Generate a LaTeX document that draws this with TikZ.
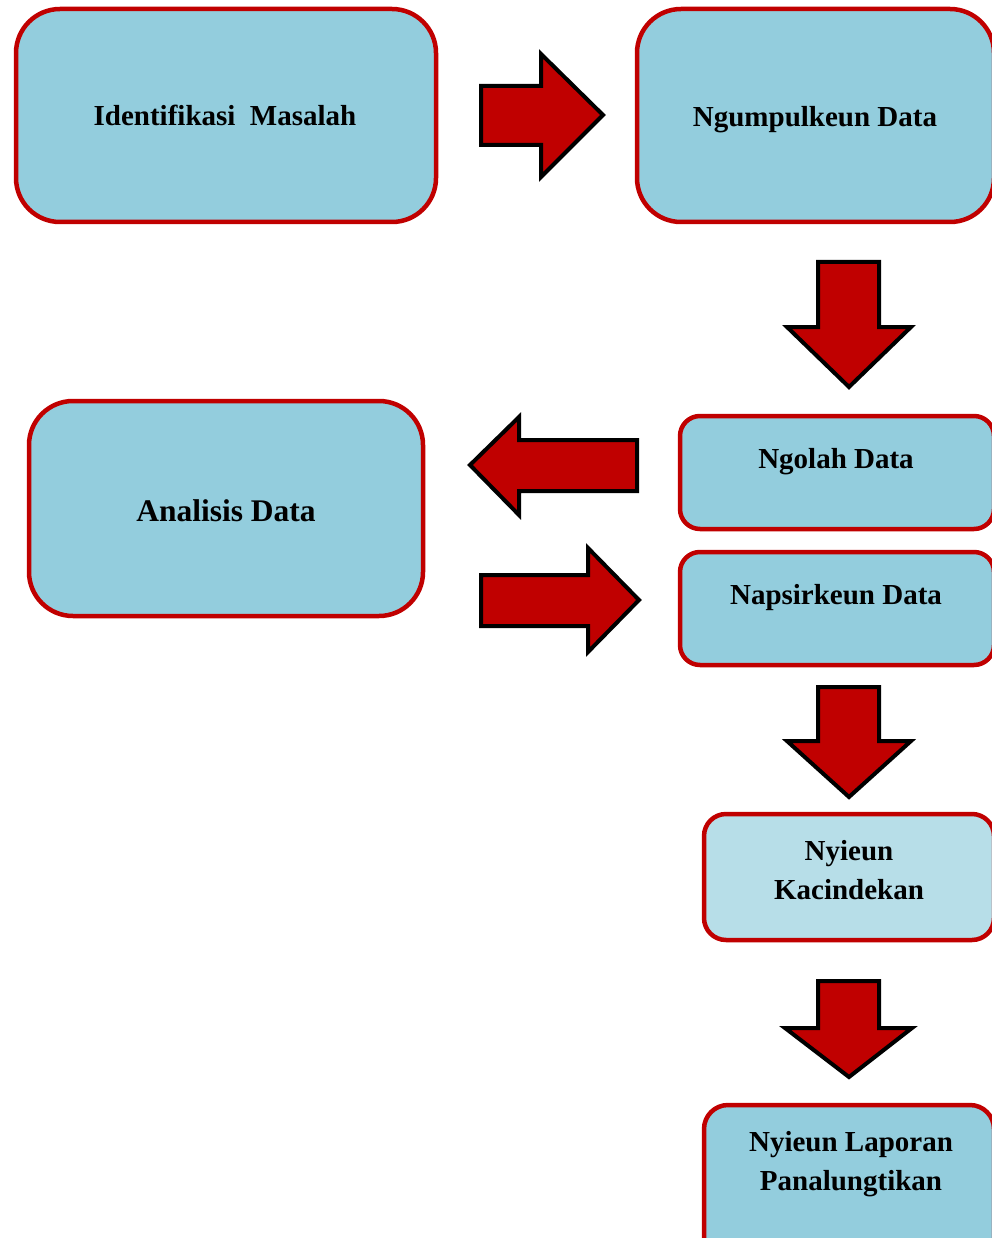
\documentclass[tikz,border=0pt]{standalone}
\usepackage{fontspec}
\setmainfont{Liberation Serif}
\definecolor{boxfill}{HTML}{93CDDD}
\definecolor{boxlight}{HTML}{B7DEE8}
\definecolor{darkred}{HTML}{C00000}
\tikzset{
  box/.style={draw=darkred, line width=4.5pt, fill=boxfill},
  lbl/.style={font=\fontsize{29}{39}\selectfont\bfseries, align=center, inner sep=0pt},
  blockarrow/.style={draw=black, line width=4pt, fill=darkred, line join=miter},
}
\begin{document}
\begin{tikzpicture}[x=1pt,y=-1pt]
\useasboundingbox (0,0) rectangle (992,1238);
\clip (0,0) rectangle (992,1238);
% boxes
\draw[box, rounded corners=44pt] (16,9) rectangle (436,222);
\draw[box, rounded corners=44pt] (637,9) rectangle (994,222);
\draw[box, rounded corners=44pt] (29,401) rectangle (423,616);
\draw[box, rounded corners=20pt] (680,416) rectangle (994,529);
\draw[box, rounded corners=20pt] (680,552) rectangle (994,665);
\draw[box, fill=boxlight, rounded corners=22pt] (704,814) rectangle (994,940);
\draw[box, rounded corners=24pt] (704,1105) rectangle (994,1270);
% labels
\node[lbl] (t1) at (225,115) {Identifikasi\ \ Masalah};
\node[lbl] (t2) at (815,120) {Ngumpulkeun Data};
\node[lbl, font=\fontsize{31.5}{39}\selectfont\bfseries] (t3) at (226,511) {Analisis Data};
\node[lbl] (t4) at (836,462) {Ngolah Data};
\node[lbl] (t5) at (836,598) {Napsirkeun Data};
\node[lbl] (t6) at (849,870) {Nyieun\\Kacindekan};
\node[lbl] (t7) at (851,1164) {Nyieun Laporan\\Panalungtikan};
% block arrows
\draw[blockarrow] (481,86) -- (541,86) -- (541,54) -- (603,115) -- (541,177) -- (541,145) -- (481,145) -- cycle;
\draw[blockarrow] (818,262) -- (879,262) -- (879,327) -- (911,327) -- (849,387) -- (787,327) -- (818,327) -- cycle;
\draw[blockarrow] (637,440) -- (519,440) -- (519,417) -- (470,465) -- (519,515) -- (519,491) -- (637,491) -- cycle;
\draw[blockarrow] (481,575) -- (588,575) -- (588,548) -- (639,600) -- (588,652) -- (588,626) -- (481,626) -- cycle;
\draw[blockarrow] (818,687) -- (879,687) -- (879,741) -- (911,741) -- (849,797) -- (787,741) -- (818,741) -- cycle;
\draw[blockarrow] (818,981) -- (879,981) -- (879,1028) -- (912,1028) -- (849,1077) -- (785,1028) -- (818,1028) -- cycle;
\end{tikzpicture}
\end{document}
